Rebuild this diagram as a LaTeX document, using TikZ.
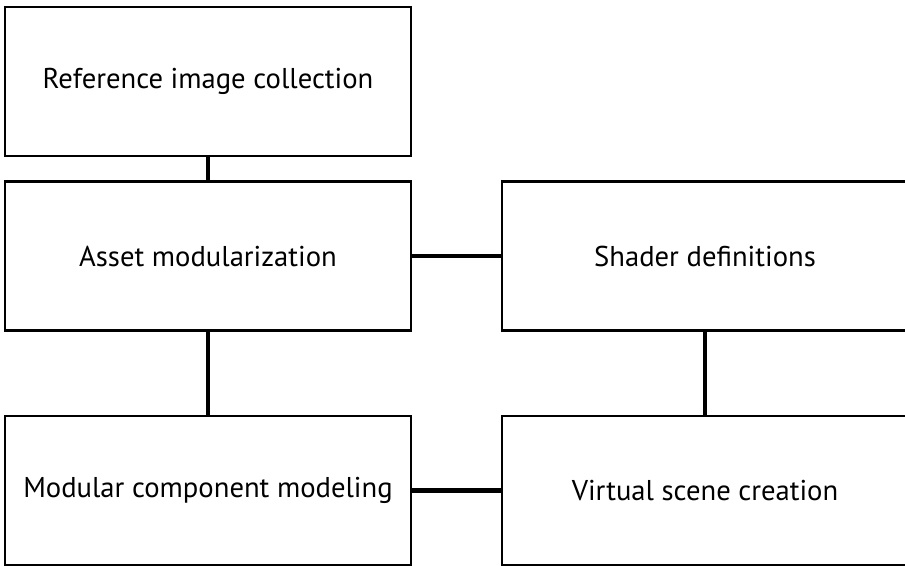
\documentclass[tikz,border=0pt]{standalone}
\usepackage{fontspec}
\setmainfont{PT Sans}
\usepackage{tikz}
\usetikzlibrary{positioning}

\begin{document}
\begin{tikzpicture}[
		stage/.style={draw, line width=1.4pt, minimum width=8.12cm, minimum height=2.98cm, font=\fontsize{16.3}{19}\selectfont},
		link/.style={line width=2.8pt}]
		\useasboundingbox (0,0) rectangle (18.1,-11.32);
		\node[stage] (ref) at (4.16,-1.63) {Reference image collection};
		\node[stage] (asset) at (4.16,-5.12) {Asset modularization};
		\node[stage] (model) at (4.16,-9.81) {Modular component modeling};
		\node[stage] (shader) at (14.1,-5.12) {Shader definitions};
		\node[stage] (scene) at (14.1,-9.81) {Virtual scene creation};
		\draw[link] (ref) -- (asset);
		\draw[link] (asset) -- (model);
		\draw[link] (asset) -- (shader);
		\draw[link] (shader) -- (scene);
		\draw[link] (model) -- (scene);
	\end{tikzpicture}
\end{document}
